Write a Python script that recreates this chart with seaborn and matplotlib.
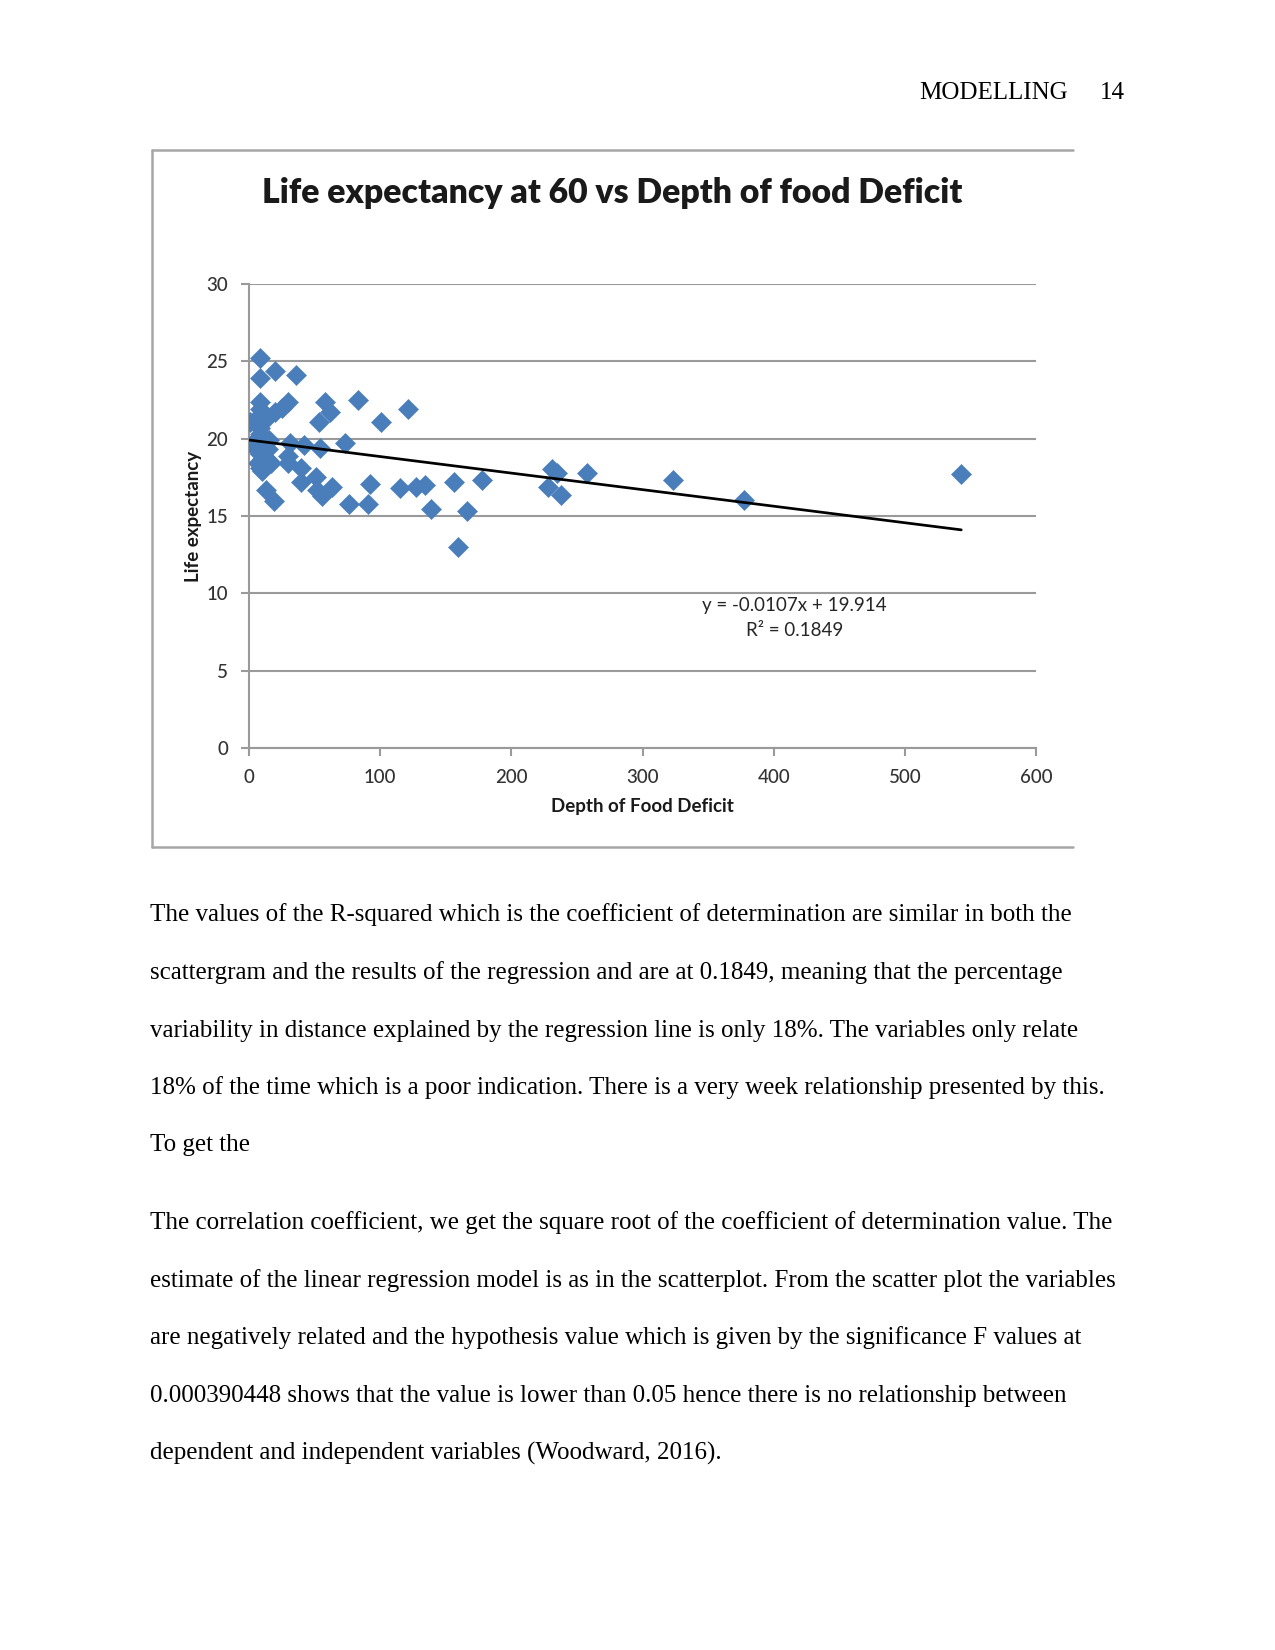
import matplotlib
matplotlib.use("Agg")
import matplotlib.pyplot as plt
import seaborn as sns
import pandas as pd
import numpy as np
from matplotlib.lines import Line2D

# ---- data ----
depth = [8.5, 8.5, 20, 35.5, 8.5, 8.5, 8.5, 20, 25, 30,
         58, 61.5, 53.5, 83, 101, 121,
         1, 8.5, 8.5, 3, 8.5, 12, 14.5, 8.5, 10, 14.5, 8.5, 17,
         6, 11, 7, 10, 5, 12, 15,
         31, 30, 30, 42, 54.5, 73.5,
         40, 40, 51, 52, 56, 63,
         13, 19, 76, 90.5, 92.5,
         115.5, 127, 134, 139, 156, 159.5, 166.5, 177.5,
         228, 231, 234.5, 237.5, 257.5, 323, 377.5, 543]
life = [25.2, 23.9, 24.4, 24.1, 22.4, 21.9, 21.5, 21.7, 22.0, 22.4,
        22.4, 21.7, 21.1, 22.5, 21.1, 21.9,
        21.1, 20.7, 20.3, 19.7, 19.6, 19.5, 19.3, 19.0, 18.7, 18.6, 18.1, 18.4,
        20.0, 20.1, 18.4, 17.9, 19.3, 21.2, 19.9,
        19.7, 18.9, 18.4, 19.6, 19.4, 19.7,
        18.1, 17.2, 17.5, 16.7, 16.3, 16.9,
        16.7, 16.0, 15.8, 15.8, 17.1,
        16.8, 16.9, 17.0, 15.45, 17.2, 13.0, 15.35, 17.3,
        16.9, 18.05, 17.8, 16.35, 17.8, 17.35, 16.05, 17.7]
trend_x = [0, 543]
slope = -0.0107
intercept = 19.914
x_ticks = [0, 100, 200, 300, 400, 500, 600]
y_ticks = [0, 5, 10, 15, 20, 25, 30]

title = "Life expectancy at 60 vs Depth of food Deficit"
xlabel = "Depth of Food Deficit"
ylabel = "Life expectancy"
eq_text = "y = -0.0107x + 19.914"
r2_text = "R² = 0.1849"

header_left = "MODELLING"
header_right = "14"
para1 = ["The values of the R-squared which is the coefficient of determination are similar in both the",
         "scattergram and the results of the regression and are at 0.1849, meaning that the percentage",
         "variability in distance explained by the regression line is only 18%. The variables only relate",
         "18% of the time which is a poor indication. There is a very week relationship presented by this.",
         "To get the"]
para2 = ["The correlation coefficient, we get the square root of the coefficient of determination value. The",
         "estimate of the linear regression model is as in the scatterplot. From the scatter plot the variables",
         "are negatively related and the hypothesis value which is given by the significance F values at",
         "0.000390448 shows that the value is lower than 0.05 hence there is no relationship between",
         "dependent and independent variables (Woodward, 2016)."]

# ---- figure ----
sns.set_theme(style="white")
plt.rcParams['font.family'] = ['Lato', 'DejaVu Sans']

W, H = 1275, 1650
DPI = 150
fig = plt.figure(figsize=(W / DPI, H / DPI), dpi=DPI)
fig.patch.set_facecolor("white")

def fx(px):
    return px / W

def fy(py):
    return 1 - py / H

# chart frame (image border)
frame_col = "#a6a6a6"
fig.add_artist(Line2D([fx(152), fx(152)], [fy(150), fy(847)], color=frame_col, lw=1.2))
fig.add_artist(Line2D([fx(152), fx(1073)], [fy(150), fy(150)], color=frame_col, lw=1.2))
fig.add_artist(Line2D([fx(152), fx(1073)], [fy(847), fy(847)], color=frame_col, lw=1.2))

# axes
ax = fig.add_axes([fx(249), fy(748), fx(1036) - fx(249), fy(284) - fy(748)])
df = pd.DataFrame({"depth": depth, "life": life})
sns.scatterplot(data=df, x="depth", y="life", marker="D", s=46, color="#4a7ebb",
                edgecolor="#4a7ebb", linewidth=0.3, ax=ax, zorder=3)
tx = np.array(trend_x, dtype=float)
sns.lineplot(x=tx, y=slope * tx + intercept, color="black", lw=1.3, ax=ax, zorder=4)

ax.set_xlim(0, 600)
ax.set_ylim(0, 30)
ax.set_xticks(x_ticks)
ax.set_yticks(y_ticks)
ax.set_xticklabels([str(v) for v in x_ticks], fontsize=9, color="#333333", fontweight="medium")
ax.set_yticklabels([str(v) for v in y_ticks], fontsize=9, color="#333333", fontweight="medium")
ax.yaxis.grid(True, color="#9a9a9a", lw=1.0)
ax.xaxis.grid(False)
for s in ["top", "right"]:
    ax.spines[s].set_visible(False)
for s in ["left", "bottom"]:
    ax.spines[s].set_color("#9a9a9a")
    ax.spines[s].set_linewidth(1.0)
ax.tick_params(axis="both", which="major", length=4, width=1.0, color="#9a9a9a",
               direction="out", bottom=True, left=True, pad=6)
ax.set_xlabel(xlabel, fontsize=9, fontweight="bold", color="#1a1a1a", labelpad=6)
ax.set_ylabel(ylabel, fontsize=9, fontweight="bold", color="#1a1a1a", labelpad=2)
ax.set_facecolor("white")

ax.text(416, 9.2, eq_text, fontsize=9, color="#262626", ha="center", va="center")
ax.text(416, 7.6, r2_text, fontsize=9, color="#262626", ha="center", va="center")

# title
fig.text(fx(612), fy(193), title, fontsize=16.2, fontweight="heavy", color="#1a1a1a",
         ha="center", va="center")

# header
serif = ['Liberation Serif', 'DejaVu Serif']
fig.text(fx(1068), fy(93), header_left, fontsize=12, family=serif, ha="right", va="center", color="black")
fig.text(fx(1125), fy(93), header_right, fontsize=12, family=serif, ha="right", va="center", color="black")

# body text
ys1 = [915, 973, 1031, 1088, 1145]
ys2 = [1223, 1281, 1338, 1396, 1453]
for line, y in zip(para1, ys1):
    fig.text(fx(150), fy(y), line, fontsize=12, family=serif, ha="left", va="center", color="black")
for line, y in zip(para2, ys2):
    fig.text(fx(150), fy(y), line, fontsize=12, family=serif, ha="left", va="center", color="black")

fig.savefig("out.png", dpi=DPI, facecolor="white")
